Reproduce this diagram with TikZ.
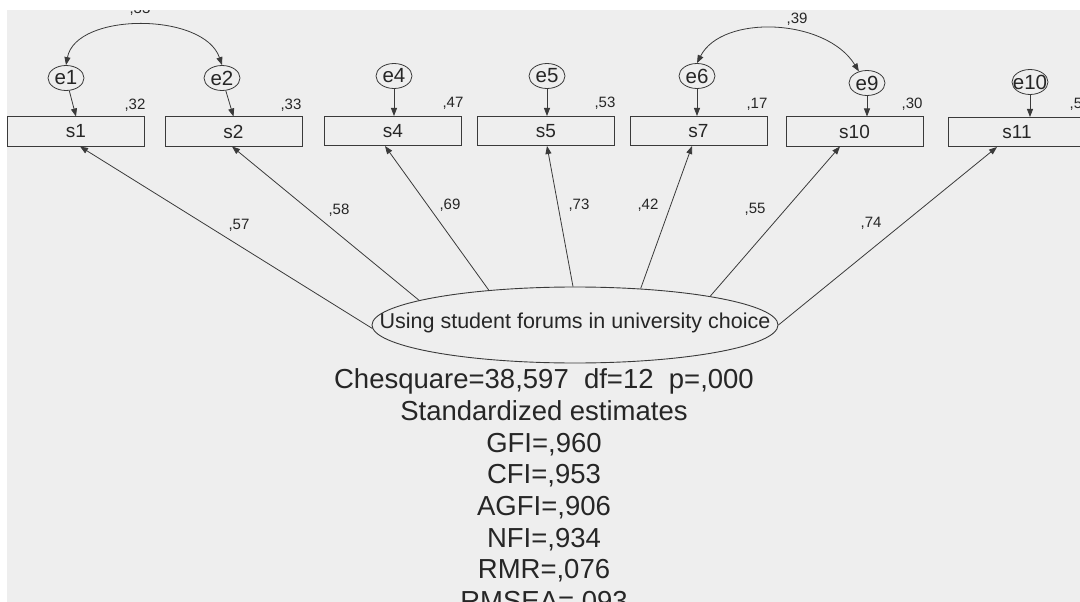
\documentclass[tikz,border=0pt]{standalone}
\usepackage{fontspec}
\setmainfont{Liberation Sans}
\usetikzlibrary{shapes.geometric,arrows.meta,calc}
\definecolor{bg}{HTML}{EEEEEE}
\definecolor{ln}{HTML}{3A3A3A}
\definecolor{tx}{HTML}{262626}
\begin{document}
\begin{tikzpicture}[x=1pt,y=-1pt,
  obs/.style={draw=ln, line width=1pt, minimum width=137pt, minimum height=29pt, inner sep=0pt, text=tx, font=\fontsize{19}{19}\selectfont},
  efont/.style={inner sep=0pt, text=tx, font=\fontsize{20.5}{20.5}\selectfont},
  err/.style={ellipse, draw=ln, line width=0.8pt, minimum width=36pt, minimum height=25pt, inner sep=0pt, label={[efont]center:#1}},
  lat/.style={ellipse, draw=ln, line width=0.9pt, minimum width=406pt, minimum height=76pt, inner sep=0pt},
  lbl/.style={inner sep=0pt, anchor=base, text=tx, font=\fontsize{15}{15}\selectfont},
  stat/.style={inner sep=0pt, anchor=base, text=tx, font=\fontsize{27.5}{27.5}\selectfont},
  arr/.style={draw=ln, line width=0.8pt, -{Triangle[length=8pt,width=6pt]}},
  cov/.style={draw=ln, line width=0.8pt, {Triangle[length=8pt,width=6pt]}-{Triangle[length=8pt,width=6pt]}}
]
\useasboundingbox (0,0) rectangle (1080,602);
\fill[bg] (7,10) rectangle (1080,602);

% observed variables
\node[obs] (s1) at (76,131.5) {s1};
\node[obs] (s2) at (233.5,131.5) {s2};
\node[obs] (s4) at (393,131) {s4};
\node[obs] (s5) at (546,131) {s5};
\node[obs] (s7) at (698.5,131) {s7};
\node[obs] (s10) at (854.5,131.5) {s10};
\node[obs] (s11) at (1017,132) {s11};

% error terms
\node[err=e1] (e1) at (66,78) {};
\node[err=e2] (e2) at (222,78) {};
\node[err=e4] (e4) at (394,76) {};
\node[err=e5] (e5) at (547,76) {};
\node[err=e6] (e6) at (697,76) {};
\node[err=e9] (e9) at (867,83) {};
\node[err=e10] (e10) at (1030,82) {};

\draw[arr] (e1) -- (s1.north);
\draw[arr] (e2) -- (s2.north);
\draw[arr] (e4) -- (e4 |- s4.north);
\draw[arr] (e5) -- (e5 |- s5.north);
\draw[arr] (e6) -- (e6 |- s7.north);
\draw[arr] (e9) -- (e9 |- s10.north);
\draw[arr] (e10) -- (e10 |- s11.north);

% covariances
\draw[cov] (e1.north) .. controls (76,12) and (204,12) .. (e2.north);
\draw[cov] (e6.north) .. controls (722,14) and (826,18) .. (e9.125);
\node[lbl] (c12) at (140,13.5) {,33};
\node[lbl] (c69) at (797,23.5) {,39};

% variance labels
\node[lbl] (r1) at (135,109.5) {,32};
\node[lbl] (r2) at (291,109.5) {,33};
\node[lbl] (r4) at (453,108) {,47};
\node[lbl] (r5) at (605,108) {,53};
\node[lbl] (r7) at (757,108.5) {,17};
\node[lbl] (r10) at (912,108.5) {,30};
\node[lbl] (r11) at (1080,108.5) {,55};

% latent factor
\node[lat] (F) at (575,325) {};
\node[inner sep=0pt, text=tx, font=\fontsize{21.5}{21.5}\selectfont] (Ft) at (575,323) {Using student forums in university choice};

\draw[arr] (F.181) -- ($(s1.south)+(4,0)$);
\draw[arr] (F.171) -- ($(s2.south)+(-1.5,0)$);
\draw[arr] (F.158) -- ($(s4.south)+(-8,0)$);
\draw[arr] (F.93) -- ($(s5.south)+(1,0)$);
\draw[arr] (F.29) -- ($(s7.south)+(-6.5,0)$);
\draw[arr] (F.12.5) -- ($(s10.south)+(-14.5,0)$);
\draw[arr] (F.0.8) -- ($(s11.south)+(-20,0)$);

% loading labels
\node[lbl] (l1) at (239,229.5) {,57};
\node[lbl] (l2) at (339,214) {,58};
\node[lbl] (l4) at (450,209.5) {,69};
\node[lbl] (l5) at (579,209.5) {,73};
\node[lbl] (l7) at (648,209.5) {,42};
\node[lbl] (l10) at (755,213) {,55};
\node[lbl] (l11) at (871,227) {,74};

% fit statistics
\node[stat] (t1) at (544,388) {Chesquare=38,597\ \ df=12\ \ p=,000};
\node[stat] (t2) at (544,420) {Standardized estimates};
\node[stat] (t3) at (544,452) {GFI=,960};
\node[stat] (t4) at (544,483.5) {CFI=,953};
\node[stat] (t5) at (544,515) {AGFI=,906};
\node[stat] (t6) at (544,547) {NFI=,934};
\node[stat] (t7) at (544,578.5) {RMR=,076};
\node[stat] (t8) at (544,610) {RMSEA=,093};

\fill[white] (0,0) rectangle (1080,10);
\fill[white] (0,0) rectangle (7,602);
\end{tikzpicture}
\end{document}
